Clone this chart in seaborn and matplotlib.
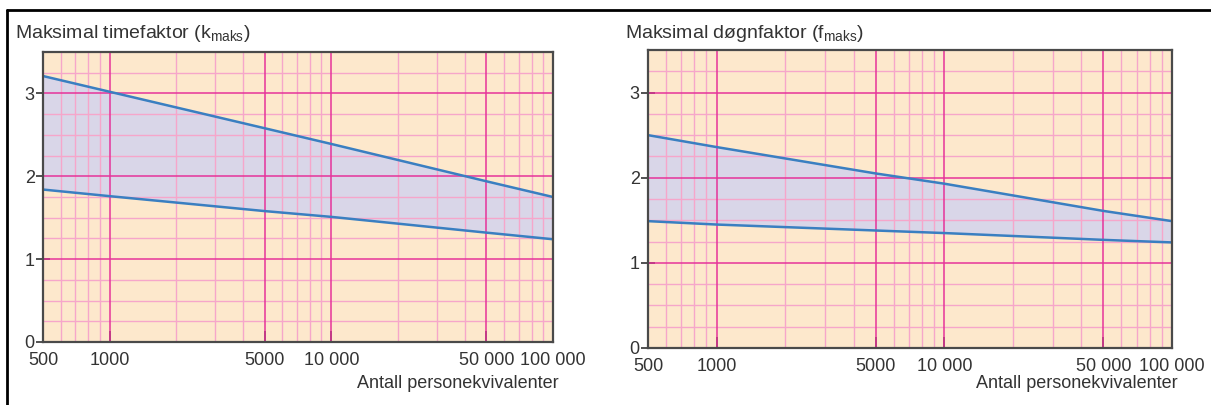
"""
Maksimal timefaktor / døgnfaktor vs antall personekvivalenter
"""

import numpy as np
import pandas as pd
import matplotlib
matplotlib.use('Agg')
import matplotlib.pyplot as plt
from matplotlib.lines import Line2D
from matplotlib.ticker import FixedLocator, NullFormatter
import seaborn as sns

# data
pe = [500, 1000, 5000, 10000, 50000, 100000]
time_upper = [3.21, 3.02, 2.58, 2.39, 1.94, 1.75]
time_lower = [1.84, 1.76, 1.58, 1.51, 1.32, 1.24]
dogn_upper = [2.50, 2.36, 2.05, 1.93, 1.61, 1.49]
dogn_lower = [1.49, 1.45, 1.38, 1.35, 1.27, 1.24]

x_tick_values = [500, 1000, 5000, 10000, 50000, 100000]
x_tick_labels = ['500', '1000', '5000', '10 000', '50 000', '100 000']
x_minor_values = [600, 700, 800, 900, 2000, 3000, 4000, 6000, 7000, 8000, 9000,
                  20000, 30000, 40000, 60000, 70000, 80000, 90000]
x_grid_major = [1000, 5000, 10000, 50000]
y_tick_values = [0, 1, 2, 3]
y_minor_values = [0.25, 0.5, 0.75, 1.25, 1.5, 1.75, 2.25, 2.5, 2.75, 3.25]

titles = [r'Maksimal timefaktor (k$_{\mathrm{maks}}$)',
          r'Maksimal døgnfaktor (f$_{\mathrm{maks}}$)']
xlabel = 'Antall personekvivalenter'

BG = '#fde8cc'
FILL = '#d9d6e8'
LINE = '#3a7fc1'
GRID_MINOR = '#f6a6ca'
GRID_MAJOR = '#e6349a'
SPINE = '#4a4a4a'
TEXT = '#333333'

sns.set_style('white')
plt.rcParams['font.family'] = ['Liberation Sans', 'DejaVu Sans']
plt.rcParams['mathtext.fontset'] = 'custom'
plt.rcParams['mathtext.rm'] = 'Liberation Sans'
plt.rcParams['mathtext.it'] = 'Liberation Sans'

fig = plt.figure(figsize=(12.11, 4.05), dpi=100)
ax_left = fig.add_axes([43 / 1211, 1 - 342 / 405, 510 / 1211, 290 / 405])
ax_right = fig.add_axes([648 / 1211, 1 - 348 / 405, 524 / 1211, 298 / 405])

panels = [
    (ax_left, time_upper, time_lower, titles[0], 15),
    (ax_right, dogn_upper, dogn_lower, titles[1], 625),
]

for ax, upper, lower, title, title_x in panels:
    df = pd.DataFrame({'pe': pe * 2,
                       'value': upper + lower,
                       'curve': ['upper'] * len(pe) + ['lower'] * len(pe)})
    ax.set_facecolor(BG)
    ax.fill_between(pe, lower, upper, color=FILL, zorder=1, linewidth=0)

    # grid lines
    for v in x_minor_values:
        ax.axvline(v, color=GRID_MINOR, lw=1.0, zorder=2)
    for v in y_minor_values:
        ax.axhline(v, color=GRID_MINOR, lw=1.0, zorder=2)
    for v in x_grid_major:
        ax.axvline(v, color=GRID_MAJOR, lw=1.1, zorder=2)
    for v in [1, 2, 3]:
        ax.axhline(v, color=GRID_MAJOR, lw=1.1, zorder=2)

    sns.lineplot(data=df, x='pe', y='value', units='curve', estimator=None,
                 color=LINE, lw=1.8, ax=ax, legend=False, zorder=4)

    ax.set_xscale('log')
    ax.set_xlim(500, 100000)
    ax.set_ylim(0, 3.5)
    ax.xaxis.set_major_locator(FixedLocator(x_tick_values))
    ax.set_xticklabels(x_tick_labels)
    ax.xaxis.set_minor_locator(FixedLocator(x_minor_values))
    ax.xaxis.set_minor_formatter(NullFormatter())
    ax.set_yticks(y_tick_values)
    ax.set_yticklabels([str(v) for v in y_tick_values])
    ax.tick_params(axis='x', which='major', direction='in', length=8, width=1.2,
                   color=TEXT, labelcolor=TEXT, labelsize=13, pad=7, bottom=True)
    ax.tick_params(axis='x', which='minor', length=0)
    ax.tick_params(axis='y', which='major', direction='inout', length=10, width=1.2,
                   color=TEXT, labelcolor=TEXT, labelsize=13, pad=1, left=True)
    ax.set_xlabel('')
    ax.set_ylabel('')
    for s in ax.spines.values():
        s.set_color(SPINE)
        s.set_linewidth(1.6)
        s.set_zorder(5)

    bbox = ax.get_position()
    fig.text(bbox.x1 + 6 / 1211, 1 - 384 / 405, xlabel, ha='right', va='center',
             fontsize=13, color=TEXT)
    fig.text(title_x / 1211, 1 - 33 / 405, title, ha='left', va='center',
             fontsize=14, color=TEXT)

# outer frame (top and left edge)
fig.add_artist(Line2D([7 / 1211, 1], [1 - 10 / 405] * 2, color='black', lw=2))
fig.add_artist(Line2D([7 / 1211] * 2, [0, 1 - 10 / 405], color='black', lw=2))

fig.savefig('out.png', dpi=100)
